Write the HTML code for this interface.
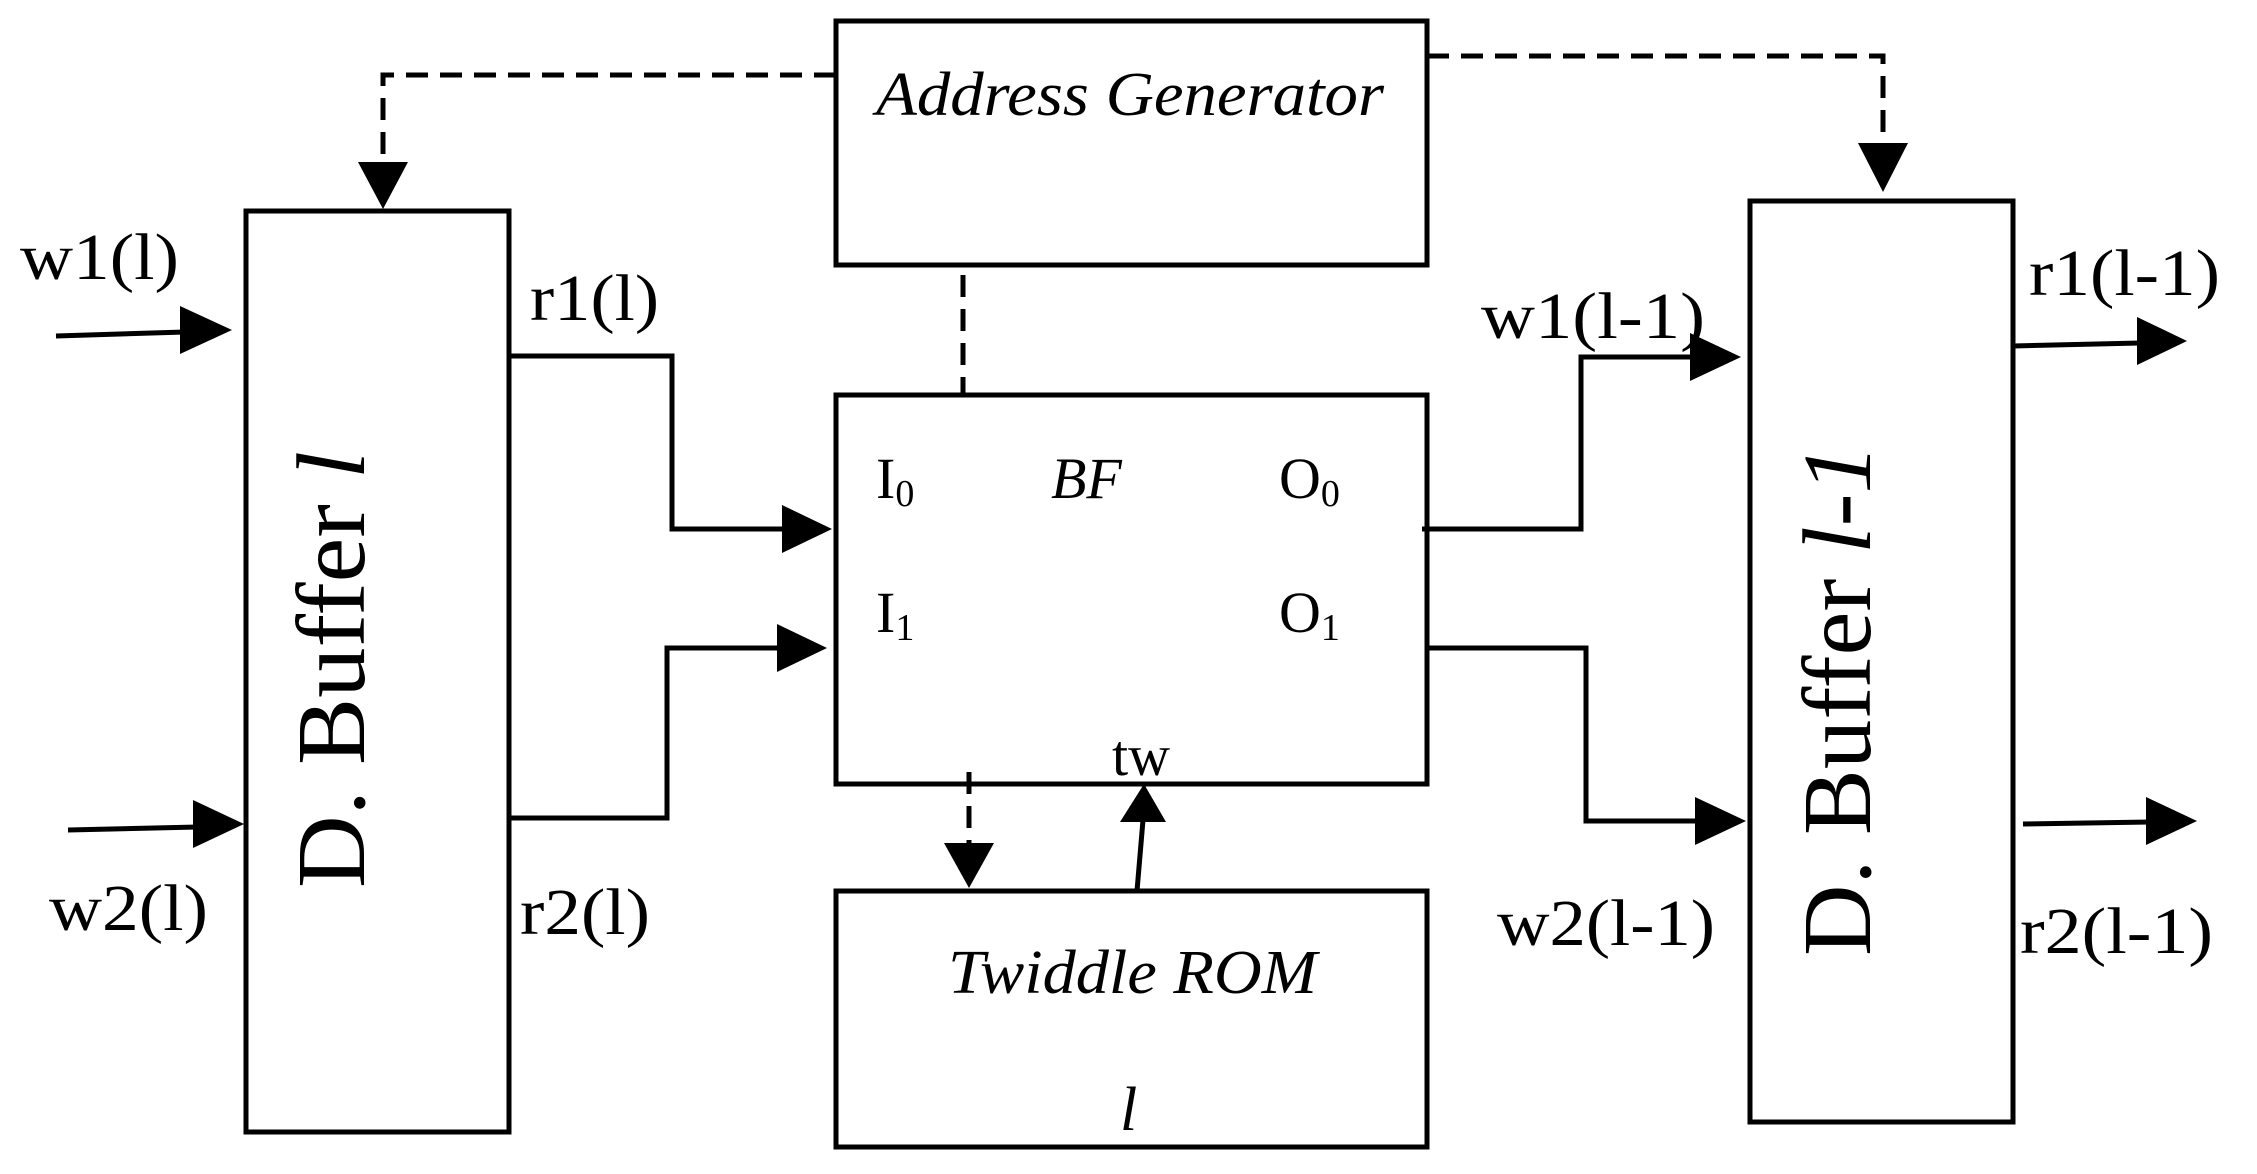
<!DOCTYPE html>
<html><head><meta charset="utf-8"><style>html,body{margin:0;padding:0;background:#fff}svg{display:block}</style></head>
<body>
<svg width="2257" height="1174" viewBox="0 0 2257 1174" xmlns="http://www.w3.org/2000/svg" font-family="'Liberation Serif', serif" fill="#000">
<g fill="none" stroke="#000" stroke-width="5">
<rect x="246" y="211" width="263" height="921"/>
<rect x="836" y="21" width="591" height="244"/>
<rect x="836" y="395" width="591" height="389"/>
<rect x="836" y="891" width="591" height="256"/>
<rect x="1750" y="201" width="263" height="921"/>
<g stroke-dasharray="22 12">
<polyline points="836,75 383,75 383,167"/>
<polyline points="1427,56 1883,56 1883,146"/>
<line x1="963" y1="275" x2="963" y2="395"/>
<line x1="969" y1="772" x2="969" y2="846"/>
</g>
<polyline points="509,356 672,356 672,529 785,529"/>
<polyline points="509,818 667,818 667,648 780,648"/>
<line x1="56" y1="336" x2="185" y2="332"/>
<line x1="68" y1="830" x2="198" y2="827"/>
<polyline points="1422,529 1581,529 1581,357 1695,357"/>
<polyline points="1427,648 1586,648 1586,821 1700,821"/>
<line x1="2013" y1="346" x2="2140" y2="343"/>
<line x1="2023" y1="824" x2="2150" y2="822"/>
<line x1="1137" y1="891" x2="1143" y2="820"/>
</g>
<g stroke="none">
<polygon points="383,209 358,162 408,162"/>
<polygon points="1883,192 1858,143 1908,143"/>
<polygon points="969,888 944,843 994,843"/>
<polygon points="1144,784 1120,822 1166,822"/>
<polygon points="832,529 782,505 782,553"/>
<polygon points="827,648 777,624 777,672"/>
<polygon points="232,330 180,306 180,354"/>
<polygon points="244,824 193,800 193,848"/>
<polygon points="1741,357 1690,333 1690,381"/>
<polygon points="1746,821 1695,797 1695,845"/>
<polygon points="2187,341 2137,317 2137,365"/>
<polygon points="2197,821 2146,797 2146,845"/>
</g>
<g font-size="66">
<text x="20" y="279" textLength="159" lengthAdjust="spacingAndGlyphs">w1(l)</text>
<text x="530" y="320" textLength="129" lengthAdjust="spacingAndGlyphs">r1(l)</text>
<text x="49" y="930" textLength="159" lengthAdjust="spacingAndGlyphs">w2(l)</text>
<text x="520" y="934" textLength="130" lengthAdjust="spacingAndGlyphs">r2(l)</text>
<text x="1481" y="338" textLength="224" lengthAdjust="spacingAndGlyphs">w1(l-1)</text>
<text x="1497" y="945" textLength="218" lengthAdjust="spacingAndGlyphs">w2(l-1)</text>
<text x="2029" y="295" textLength="191" lengthAdjust="spacingAndGlyphs">r1(l-1)</text>
<text x="2020" y="953" textLength="193" lengthAdjust="spacingAndGlyphs">r2(l-1)</text>
</g>
<g font-size="58">
<text x="876" y="498">I<tspan font-size="38" dy="8">0</tspan></text>
<text x="876" y="632">I<tspan font-size="38" dy="8">1</tspan></text>
<text x="1279" y="498">O<tspan font-size="38" dy="8">0</tspan></text>
<text x="1279" y="632">O<tspan font-size="38" dy="8">1</tspan></text>
<text x="1051" y="498" font-style="italic">BF</text>
<text x="1112" y="775">tw</text>
</g>
<g font-size="62" font-style="italic">
<text x="876" y="115" textLength="508" lengthAdjust="spacingAndGlyphs">Address Generator</text>
<text x="948" y="993" textLength="369" lengthAdjust="spacingAndGlyphs">Twiddle ROM</text>
<text x="1120" y="1130">l</text>
</g>
<text font-size="98" transform="translate(364,888) rotate(-90)" textLength="437" lengthAdjust="spacingAndGlyphs">D. Buffer <tspan font-style="italic">l</tspan></text>
<text font-size="98" transform="translate(1870,956) rotate(-90)" textLength="512" lengthAdjust="spacingAndGlyphs">D. Buffer <tspan font-style="italic">l-1</tspan></text>
</svg>
</body></html>
